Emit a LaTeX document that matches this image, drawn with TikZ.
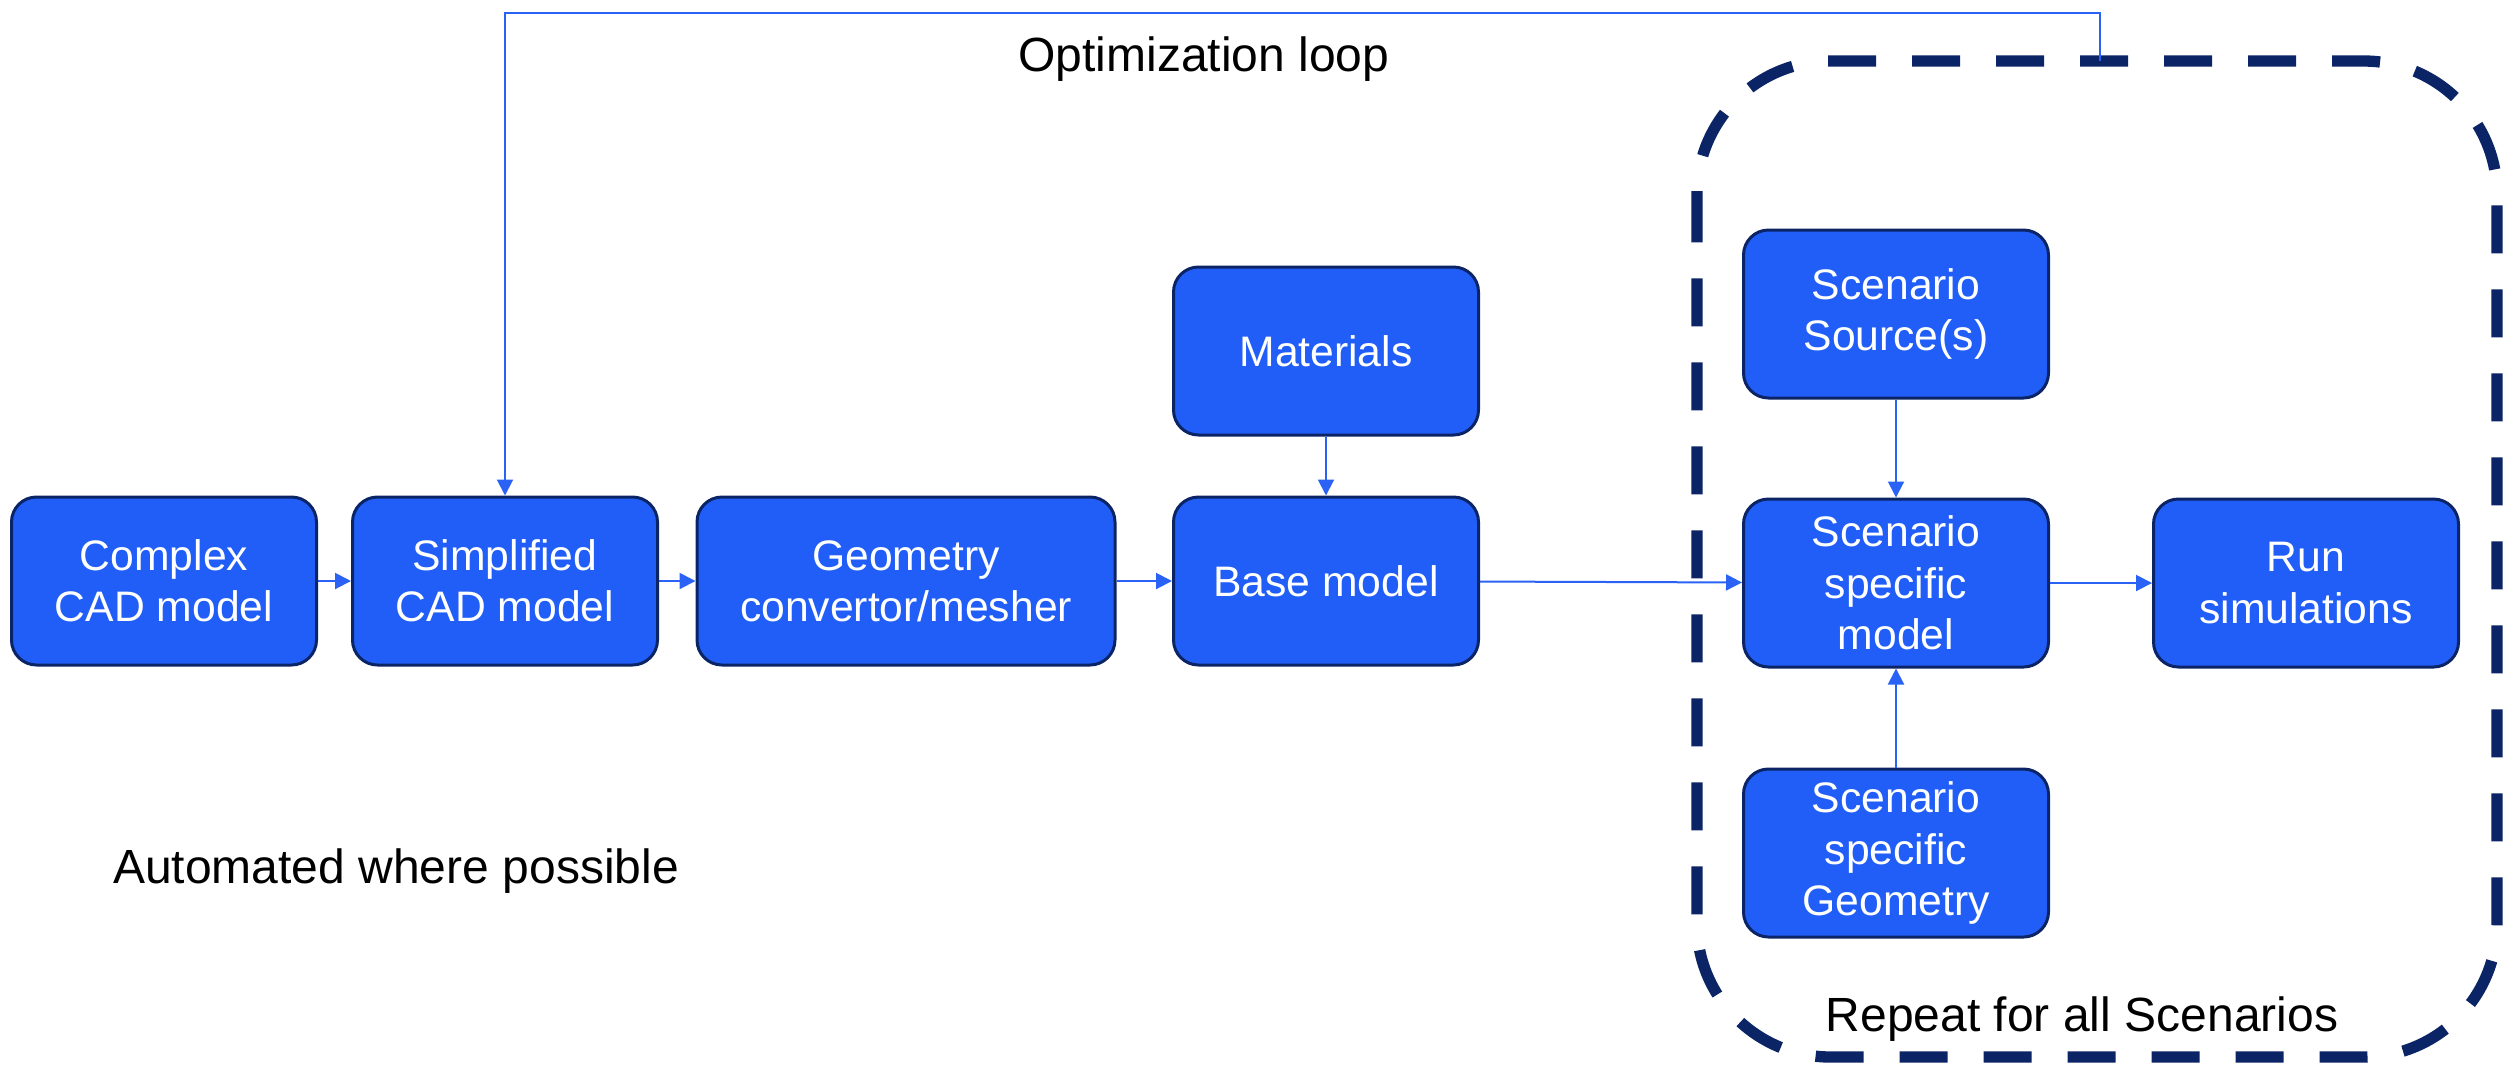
\documentclass[tikz,border=0pt]{standalone}
\usepackage{fontspec}
\setmainfont{Liberation Sans}
\usetikzlibrary{arrows.meta}
\definecolor{boxfill}{HTML}{215EF8}
\definecolor{boxline}{HTML}{0B2466}
\definecolor{connblue}{HTML}{2962F5}
\definecolor{navy}{HTML}{0A2466}
\begin{document}
\begin{tikzpicture}[x=0.3pt,y=-0.3pt,
  blk/.style={draw=boxline, line width=0.9pt, fill=boxfill, rounded corners=7.5pt,
    text=white, align=center, minimum width=91.5pt, minimum height=50.4pt, inner sep=0pt,
    font=\fontsize{12.8}{15.4}\selectfont},
  arr/.style={draw=connblue, line width=0.6pt, -{Triangle[length=4.8pt,width=4.8pt]}},
  lbl/.style={font=\fontsize{14.4}{17}\selectfont, text=black, inner sep=0pt}]
\useasboundingbox (0,0) rectangle (2507,1067);
% dashed scenario region
\draw[navy, line width=3.4pt, dash pattern=on 14.4pt off 10.8pt, rounded corners=40pt]
  (1697,61) rectangle (2497,1057);
% blocks
\node[blk] (cad)  at (164,581)  {Complex\\CAD model};
\node[blk] (simp) at (505,581)  {Simplified\\CAD model};
\node[blk, minimum width=125.4pt] (geo) at (906,581) {Geometry\\convertor/mesher};
\node[blk] (base) at (1326,581) {Base model};
\node[blk] (mat)  at (1326,351) {Materials};
\node[blk] (src)  at (1896,314) {Scenario\\Source(s)};
\node[blk] (smod) at (1896,583) {Scenario\\specific\\model};
\node[blk] (run)  at (2306,583) {Run\\simulations};
\node[blk] (sgeo) at (1896,853) {Scenario\\specific\\Geometry};
% labels
\node[lbl] (optl) at (1204,59) {Optimization loop};
\node[lbl] (auto) at (396,871) {Automated where possible};
\node[lbl] (rep)  at (2082,1019) {Repeat for all Scenarios};
% connectors
\draw[arr] (cad) -- (simp);
\draw[arr] (simp) -- (geo);
\draw[arr] (geo) -- (base);
\draw[arr] (mat) -- (base);
\draw[arr] (base) -- (smod);
\draw[arr] (src) -- (smod);
\draw[arr] (sgeo) -- (smod);
\draw[arr] (smod) -- (run);
\coordinate (loopstart) at (2100,61);
\draw[arr] (loopstart) -- ++(0,-48) -| (simp.north);
\end{tikzpicture}
\end{document}
